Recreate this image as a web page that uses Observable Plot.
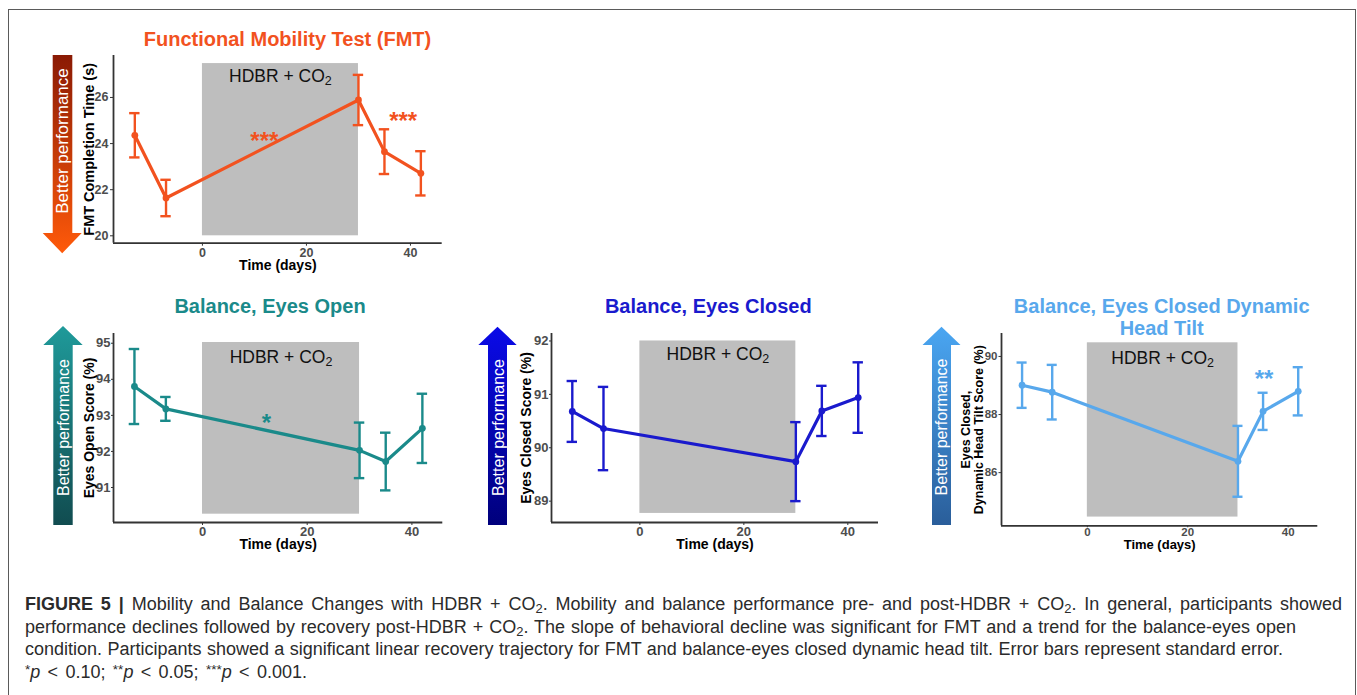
<!DOCTYPE html>
<html>
<head>
<meta charset="utf-8">
<script src="https://cdn.jsdelivr.net/npm/d3@7"></script>
<script src="https://cdn.jsdelivr.net/npm/@observablehq/plot@0.6"></script>
<style>
html,body{margin:0;padding:0;background:#fff;}
#page{position:relative;width:1357px;height:695px;overflow:hidden;font-family:"Liberation Sans",Arial,Helvetica,sans-serif;}
#frame{position:absolute;left:7.5px;top:8.5px;width:1348px;height:800px;border:1.5px solid #5a5a5a;border-bottom:none;box-sizing:border-box;}
.title{position:absolute;font-weight:bold;font-size:20px;line-height:22px;text-align:center;white-space:pre;transform:translateX(-50%);}
.panel{position:absolute;}
.panel svg{overflow:visible;}
#arrows{position:absolute;left:0;top:0;}
#caption{position:absolute;left:25px;top:593.2px;font-size:18px;line-height:22.6px;color:#2b2b2b;}
#caption div{white-space:nowrap;}
#caption span.ln{display:inline-block;}
#caption sub{font-size:0.72em;vertical-align:-0.25em;line-height:0;}
#caption sup{font-size:0.75em;vertical-align:0.3em;line-height:0;}
</style>
</head>
<body>
<div id="page">
  <div id="frame"></div>
  <svg id="arrows" width="1357" height="695">
    <defs>
      <linearGradient id="gFmt" x1="0" y1="0" x2="0" y2="1"><stop offset="0" stop-color="#8a1a04"/><stop offset="1" stop-color="#ff5a0a"/></linearGradient>
      <linearGradient id="gEo" x1="0" y1="0" x2="0" y2="1"><stop offset="0" stop-color="#1f9a9a"/><stop offset="1" stop-color="#114c50"/></linearGradient>
      <linearGradient id="gEc" x1="0" y1="0" x2="0" y2="1"><stop offset="0" stop-color="#0a0ae8"/><stop offset="1" stop-color="#00007c"/></linearGradient>
      <linearGradient id="gDht" x1="0" y1="0" x2="0" y2="1"><stop offset="0" stop-color="#4aa6f2"/><stop offset="1" stop-color="#2a5e9a"/></linearGradient>
    </defs>
    <path d="M52.7,55H72.3V233H81.7L62.2,253.3L42.7,233H52.7Z" fill="url(#gFmt)"/>
    <path d="M53.3,525V345H43.3L63,326L82.7,345H72.7V525Z" fill="url(#gEo)"/>
    <path d="M488,525V345H478.3L497.5,326.7L516.7,345H507V525Z" fill="url(#gEc)"/>
    <path d="M932,525V345H922.5L941.5,326.7L960.5,345H951V525Z" fill="url(#gDht)"/>
    <g fill="#fff" font-family="Liberation Sans, Arial, sans-serif" text-anchor="middle">
      <text transform="translate(62.5,141) rotate(-90)" dy="0.35em" font-size="17">Better performance</text>
      <text transform="translate(63,427.5) rotate(-90)" dy="0.35em" font-size="16">Better performance</text>
      <text transform="translate(498,427.5) rotate(-90)" dy="0.35em" font-size="16">Better performance</text>
      <text transform="translate(941.5,427) rotate(-90)" dy="0.35em" font-size="16">Better performance</text>
    </g>
  </svg>
  <div id="titles"></div>
  <div id="panels"></div>
  <div id="caption">
    <div><span class="ln"><b>FIGURE 5 |</b> Mobility and Balance Changes with HDBR + CO<sub>2</sub>. Mobility and balance performance pre- and post-HDBR + CO<sub>2</sub>. In general, participants showed</span></div>
    <div><span class="ln">performance declines followed by recovery post-HDBR + CO<sub>2</sub>. The slope of behavioral decline was significant for FMT and a trend for the balance-eyes open</span></div>
    <div><span class="ln">condition. Participants showed a significant linear recovery trajectory for FMT and balance-eyes closed dynamic head tilt. Error bars represent standard error.</span></div>
    <div><span class="ln"><sup>*</sup><i>p</i> &lt; 0.10; <sup>**</sup><i>p</i> &lt; 0.05; <sup>***</sup><i>p</i> &lt; 0.001.</span></div>
  </div>
</div>
<script>
// ---------- data ----------
const days = [-13, -7, 30, 35, 42];
const hdbrPeriod = [0, 30];
const xTicks = [0, 20, 40];
const xLabel = "Time (days)";
const hdbrLabel = "HDBR + CO2";

const fmtMean = [24.36, 21.64, 25.89, 23.65, 22.71];
const fmtSE   = [0.96, 0.79, 1.09, 0.97, 0.96];
const eoMean  = [93.80, 93.18, 92.03, 91.72, 92.64];
const eoSE    = [1.04, 0.33, 0.77, 0.80, 0.96];
const ecMean  = [90.68, 90.36, 89.74, 90.69, 90.94];
const ecSE    = [0.57, 0.78, 0.74, 0.47, 0.66];
const dhtMean = [89.01, 88.77, 86.39, 88.11, 88.80];
const dhtSE   = [0.78, 0.94, 1.22, 0.64, 0.83];

const fmtShade = [20, 27.47];
const eoShade  = [90.26, 95.02];
const ecShade  = [88.77, 92.0];
const dhtShade = [84.47, 90.47];

const fmtYTicks = [20, 22, 24, 26];
const eoYTicks  = [91, 92, 93, 94, 95];
const ecYTicks  = [89, 90, 91, 92];
const dhtYTicks = [86, 88, 90];

const fmtStarDays = [11.9, 38.6], fmtStarY = [24.36, 25.21], fmtStarText = ["***", "***"];
const eoStarDays  = [12.2],       eoStarY  = [92.95],        eoStarText  = ["*"];
const ecStarDays  = [],           ecStarY  = [],             ecStarText  = [];
const dhtStarDays = [35.2],       dhtStarY = [89.43],        dhtStarText = ["**"];

const titles  = ["Functional Mobility Test (FMT)", "Balance, Eyes Open", "Balance, Eyes Closed", "Balance, Eyes Closed Dynamic\nHead Tilt"];
const yLabels = ["FMT Completion Time (s)", "Eyes Open Score (%)", "Eyes Closed Score (%)", "Eyes Closed,\nDynamic Head Tilt Score (%)"];
const colors  = ["#f2521f", "#1a8a8a", "#1a1acd", "#58a8ec"];

// ---------- layout ----------
const FONT = "Liberation Sans, Arial, Helvetica, sans-serif";
const titlePos = [[287.5, 28.4], [270, 294.7], [708.3, 294.7], [1161.7, 294.7]];
const captionWidths = [1317, 1271, 1258, 282];
const layouts = [
  {left: 113, right: 441.7, top: 55, bottom: 242.7, xDomain: [-17.1, 46.1], yDomain: [19.68, 27.82], hdbrDy: 5.6, tickFont: 12.5, xTick: 3, xPad: 1.5, yTick: 3, yPad: 2, yLabelFont: 14.5, yLabelDx: -24.5, xLabelFont: 14, xLabelDy: 22.5},
  {left: 113.3, right: 442.6, top: 332.7, bottom: 521.7, xDomain: [-17, 45.9], yDomain: [90.03, 95.27], hdbrDy: 7.6, tickFont: 13, xTick: 3, xPad: 1.5, yTick: 2, yPad: 1, yLabelFont: 14, yLabelDx: -24, xLabelFont: 14, xLabelDy: 22.5},
  {left: 551, right: 878, top: 333.3, bottom: 522.3, xDomain: [-17, 45.9], yDomain: [88.6, 92.14], hdbrDy: 6.3, tickFont: 13, xTick: 3, xPad: 1.5, yTick: 2, yPad: 1, yLabelFont: 14, yLabelDx: -25, xLabelFont: 14, xLabelDy: 22.5},
  {left: 1000.7, right: 1317, top: 332.7, bottom: 525, xDomain: [-17.1, 45.9], yDomain: [84.17, 90.79], hdbrDy: 8.3, tickFont: 11.5, xTick: 2, xPad: 0.5, yTick: 2.5, yPad: 1.5, yLabelFont: 12.5, yLabelDx: -29.5, xLabelFont: 13, xLabelDy: 19.5}
];

const panels = [
  {mean: fmtMean, se: fmtSE, shade: fmtShade, yTicks: fmtYTicks, starDays: fmtStarDays, starY: fmtStarY, starText: fmtStarText},
  {mean: eoMean, se: eoSE, shade: eoShade, yTicks: eoYTicks, starDays: eoStarDays, starY: eoStarY, starText: eoStarText},
  {mean: ecMean, se: ecSE, shade: ecShade, yTicks: ecYTicks, starDays: ecStarDays, starY: ecStarY, starText: ecStarText},
  {mean: dhtMean, se: dhtSE, shade: dhtShade, yTicks: dhtYTicks, starDays: dhtStarDays, starY: dhtStarY, starText: dhtStarText}
];

const capHalf = 1;

function makePanel(p, i) {
  const L = layouts[i];
  const color = colors[i];
  const mL = 62, mR = 8, mT = 6, mB = 42;
  const w = L.right - L.left, h = L.bottom - L.top;
  const rows = days.map((d, k) => ({day: d, mean: p.mean[k], se: p.se[k]}));
  const stars = p.starDays.map((d, k) => ({day: d, y: p.starY[k], t: p.starText[k]}));
  const shade = [{x1: hdbrPeriod[0], x2: hdbrPeriod[1], y1: p.shade[0], y2: p.shade[1]}];
  const hdbr = [{x: (hdbrPeriod[0] + hdbrPeriod[1]) / 2, y: p.shade[1]}];
  const svg = Plot.plot({
    width: w + mL + mR, height: h + mT + mB,
    marginLeft: mL, marginRight: mR, marginTop: mT, marginBottom: mB,
    x: {domain: L.xDomain}, y: {domain: L.yDomain},
    style: {fontFamily: FONT, background: "transparent", overflow: "visible"},
    marks: [
      Plot.rect(shade, {x1: "x1", x2: "x2", y1: "y1", y2: "y2", fill: "#bebebe"}),
      Plot.text(hdbr, {x: "x", y: "y", text: () => hdbrLabel, lineAnchor: "top", dy: L.hdbrDy, fontSize: 17.5, fill: "#111"}),
      Plot.ruleX([L.xDomain[0]], {stroke: "#333", strokeWidth: 1.8}),
      Plot.ruleY([L.yDomain[0]], {stroke: "#333", strokeWidth: 1.8}),
      Plot.axisX({ticks: xTicks, tickFormat: d => String(d), tickSize: L.xTick, tickPadding: L.xPad, fontSize: L.tickFont, fontWeight: "bold", fill: "#4d4d4d", stroke: "#333", label: null}),
      Plot.axisY({ticks: p.yTicks, tickFormat: d => String(d), tickSize: L.yTick, tickPadding: L.yPad, fontSize: L.tickFont, fontWeight: "bold", fill: "#4d4d4d", stroke: "#333", label: null}),
      Plot.line(rows, {x: "day", y: "mean", stroke: color, strokeWidth: 3.2}),
      Plot.ruleX(rows, {x: "day", y1: d => d.mean - d.se, y2: d => d.mean + d.se, stroke: color, strokeWidth: 2.4}),
      Plot.ruleY(rows, {y: d => d.mean - d.se, x1: d => d.day - capHalf, x2: d => d.day + capHalf, stroke: color, strokeWidth: 2.4}),
      Plot.ruleY(rows, {y: d => d.mean + d.se, x1: d => d.day - capHalf, x2: d => d.day + capHalf, stroke: color, strokeWidth: 2.4}),
      Plot.dot(rows, {x: "day", y: "mean", r: 3.4, fill: color, stroke: "none"}),
      Plot.text(stars, {x: "day", y: "y", text: "t", fontSize: 24, fontWeight: "bold", fill: color, dy: 6}),
      Plot.text([yLabels[i]], {text: d => d, frameAnchor: "left", textAnchor: "middle", lineAnchor: "middle", dx: L.yLabelDx, rotate: -90, fontSize: L.yLabelFont, fontWeight: "bold", fill: "#000", lineHeight: 1.07}),
      Plot.text([xLabel], {text: d => d, frameAnchor: "bottom", textAnchor: "middle", lineAnchor: "middle", dy: L.xLabelDy, fontSize: L.xLabelFont, fontWeight: "bold", fill: "#000"})
    ]
  });
  svg.querySelectorAll("text").forEach(t => {
    if (t.textContent === hdbrLabel) {
      t.innerHTML = 'HDBR + CO<tspan dy="0.3em" font-size="12.5">2</tspan>';
    }
  });
  const div = document.createElement("div");
  div.className = "panel";
  div.style.left = (L.left - mL) + "px";
  div.style.top = (L.top - mT) + "px";
  div.appendChild(svg);
  document.getElementById("panels").appendChild(div);

  const t = document.createElement("div");
  t.className = "title";
  t.style.left = titlePos[i][0] + "px";
  t.style.top = titlePos[i][1] + "px";
  t.style.color = color;
  t.textContent = titles[i];
  document.getElementById("titles").appendChild(t);
}

panels.forEach(makePanel);

// fit caption lines to the reference line lengths via word spacing
document.querySelectorAll("#caption span.ln").forEach((s, k) => {
  const wNow = s.getBoundingClientRect().width;
  const spaces = (s.textContent.match(/ /g) || []).length;
  if (spaces > 0) s.style.wordSpacing = ((captionWidths[k] - wNow) / spaces).toFixed(2) + "px";
});
</script>
</body>
</html>
